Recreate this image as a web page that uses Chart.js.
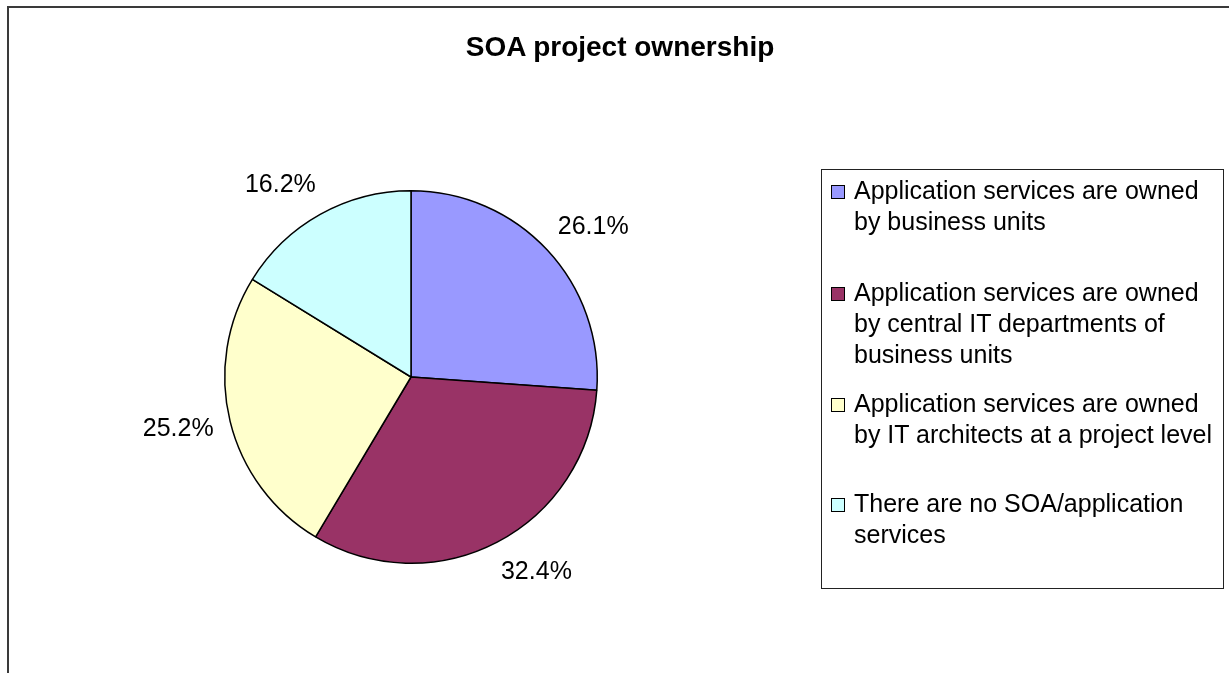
<!DOCTYPE html>
<html lang="en">

<head>
  <meta charset="UTF-8">
  <title>SOA project ownership</title>
  <script src="https://cdn.jsdelivr.net/npm/chart.js"></script>
  <style>
    html, body {
      margin: 0;
      padding: 0;
      background: #fff;
      overflow: hidden;
    }

    #wrap {
      position: relative;
      width: 1229px;
      height: 673px;
      font-family: "Liberation Sans", Arial, sans-serif;
      color: #000;
    }

    #frame {
      position: absolute;
      left: 7px;
      top: 6px;
      width: 1260px;
      height: 720px;
      border-top: 2px solid #3a3a3a;
      border-left: 2px solid #3a3a3a;
    }

    #ownershipChart {
      position: absolute;
      left: 0;
      top: 0;
    }

    #title {
      position: absolute;
      left: 0;
      top: 30px;
      width: 1240px;
      text-align: center;
      font-weight: bold;
      font-size: 28px;
      line-height: 34px;
    }

    #legend {
      position: absolute;
      left: 821px;
      top: 169px;
      width: 401px;
      height: 413px;
      border: 1px solid #222;
      box-sizing: content-box;
      padding-top: 5px;
    }

    .legend-item {
      position: relative;
      padding-left: 32px;
      font-size: 25px;
      line-height: 31px;
      white-space: nowrap;
    }

    .legend-item:nth-child(2) { margin-top: 40px; }
    .legend-item:nth-child(3) { margin-top: 18px; }
    .legend-item:nth-child(4) { margin-top: 38px; }

    .legend-box {
      position: absolute;
      left: 9px;
      top: 10px;
      width: 12px;
      height: 12px;
      border: 1.5px solid #000;
    }
  </style>
</head>

<body>
  <div id="wrap">
    <div id="frame"></div>
    <canvas id="ownershipChart" width="1229" height="673"></canvas>
    <div id="title">SOA project ownership</div>
    <div id="legend"></div>
  </div>

  <script>
    // Survey answers, each label split into the lines shown in the legend
    const ownershipLabels = [
      ['Application services are owned', 'by business units'],
      ['Application services are owned', 'by central IT departments of', 'business units'],
      ['Application services are owned', 'by IT architects at a project level'],
      ['There are no SOA/application', 'services']
    ];
    const ownershipShare = [26.1, 32.4, 25.2, 16.2];
    const sliceColors = ['#9999FF', '#993366', '#FFFFCC', '#CCFFFF'];

    // Percentage labels placed just outside each slice
    const outsideLabels = {
      id: 'outsideLabels',
      afterDatasetsDraw(chart) {
        const ctx = chart.ctx;
        const meta = chart.getDatasetMeta(0);
        const values = chart.data.datasets[0].data;
        ctx.save();
        ctx.font = '25px "Liberation Sans", Arial, sans-serif';
        ctx.fillStyle = '#000';
        ctx.textAlign = 'center';
        ctx.textBaseline = 'middle';
        meta.data.forEach((arc, i) => {
          const p = arc.getProps(['x', 'y', 'startAngle', 'endAngle', 'outerRadius'], true);
          const mid = (p.startAngle + p.endAngle) / 2;
          const dx = Math.cos(mid);
          const dy = Math.sin(mid);
          const text = values[i].toFixed(1) + '%';
          const w = ctx.measureText(text).width;
          const h = 17;
          const r = p.outerRadius + 25;
          // push the text sideways away from the pie, and a little along the radius vertically
          const x = p.x + r * dx + Math.sign(dx) * w * 0.39;
          const y = p.y + r * dy + dy * h / 2;
          ctx.fillText(text, x, y);
        });
        ctx.restore();
      }
    };

    const ctx = document.getElementById('ownershipChart').getContext('2d');
    const ownershipChart = new Chart(ctx, {
      type: 'pie',
      data: {
        labels: ownershipLabels,
        datasets: [{
          data: ownershipShare,
          backgroundColor: sliceColors,
          borderColor: '#000',
          borderWidth: 1.5,
          hoverOffset: 0
        }]
      },
      options: {
        responsive: false,
        devicePixelRatio: 1,
        animation: false,
        events: [],
        layout: {
          padding: {
            left: 224,
            right: 631,
            top: 190,
            bottom: 109
          }
        },
        plugins: {
          legend: { display: false },
          title: { display: false },
          tooltip: { enabled: false }
        }
      },
      plugins: [outsideLabels]
    });

    // Legend built from the chart's own labels and colours
    const legendEl = document.getElementById('legend');
    ownershipChart.data.labels.forEach((lines, i) => {
      const item = document.createElement('div');
      item.className = 'legend-item';
      const box = document.createElement('span');
      box.className = 'legend-box';
      box.style.background = ownershipChart.data.datasets[0].backgroundColor[i];
      item.appendChild(box);
      lines.forEach((line, j) => {
        if (j > 0) item.appendChild(document.createElement('br'));
        item.appendChild(document.createTextNode(line));
      });
      legendEl.appendChild(item);
    });
  </script>
</body>

</html>
